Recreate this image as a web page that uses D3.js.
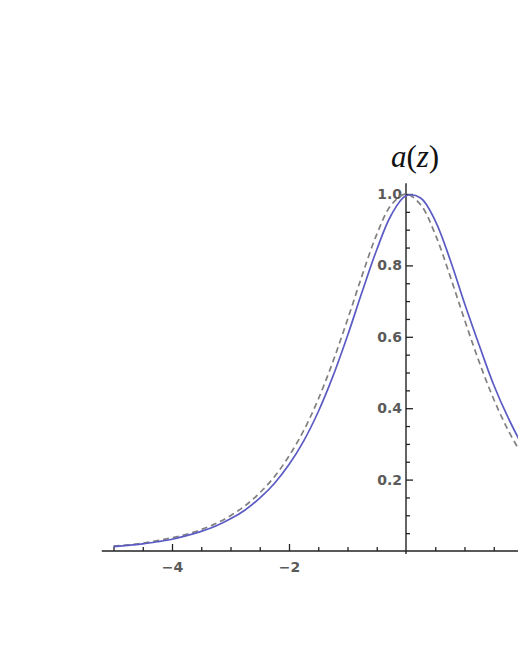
<!DOCTYPE html>
<html>
<head>
<meta charset="utf-8">
<script src="https://cdn.jsdelivr.net/npm/d3@7"></script>
<style>
  body { margin: 0; background: #fff; }
  svg { display: block; }
</style>
</head>
<body>
<div id="chart"></div>
<script>
// z positions for both curves
var zValues = [-5, -4.75, -4.5, -4.25, -4, -3.75, -3.5, -3.25, -3, -2.75, -2.5, -2.25, -2, -1.75, -1.5,
    -1.25, -1, -0.75, -0.5, -0.25, 0, 0.25, 0.5, 0.75, 1, 1.25, 1.5, 1.75, 2, 2.25, 2.5];

// solid blue curve (peak slightly right of 0)
var solidValues = [0.012, 0.016, 0.020, 0.026, 0.033, 0.043, 0.055, 0.070, 0.090, 0.115, 0.148, 0.189,
    0.242, 0.308, 0.390, 0.489, 0.603, 0.726, 0.844, 0.942, 0.995, 0.989, 0.925, 0.818, 0.694, 0.577,
    0.465, 0.372, 0.293, 0.231, 0.181];

// dashed grey curve (peak at 0)
var dashedValues = [0.014, 0.017, 0.022, 0.029, 0.037, 0.047, 0.060, 0.077, 0.099, 0.127, 0.163, 0.208,
    0.266, 0.337, 0.425, 0.530, 0.648, 0.772, 0.887, 0.970, 1.0, 0.970, 0.887, 0.772, 0.648, 0.530,
    0.425, 0.337, 0.266, 0.208, 0.163];

var xMajorTicks = [-4, -2, 2];
var yMajorTicks = [0.2, 0.4, 0.6, 0.8, 1.0];

function init() {
    var w = 518;
    var h = 670;

    var x = d3.scaleLinear().domain([0, 1]).range([406, 464.5]); // 58.5 px per unit
    var y = d3.scaleLinear().domain([0, 1]).range([551, 194]);

    var svg = d3.select("#chart").append("svg")
        .attr("width", w)
        .attr("height", h);

    // minor ticks every 0.5 on x, every 0.05 on y
    var xMinor = d3.range(-5, 3.01, 0.5).filter(function(d) { return xMajorTicks.indexOf(d) < 0 && d != 0; });
    var yMinor = d3.range(0.05, 1.01, 0.05).filter(function(d) {
        return yMajorTicks.every(function(m) { return Math.abs(m - d) > 1e-6; });
    });

    // x axis
    var xAxisG = svg.append("g").attr("transform", "translate(0," + y(0) + ")");
    xAxisG.call(d3.axisBottom(x).tickValues(xMajorTicks).tickSizeInner(-7).tickSizeOuter(0).tickPadding(11)
        .tickFormat(function(d) { return d3.format("")(d).replace("-", "\u2212"); }));
    xAxisG.call(function(g) { g.select(".domain").remove(); });
    svg.append("g").attr("transform", "translate(0," + y(0) + ")")
        .call(d3.axisBottom(x).tickValues(xMinor).tickSizeInner(-4).tickSizeOuter(0).tickFormat(""))
        .call(function(g) { g.select(".domain").remove(); });
    svg.append("line")
        .attr("x1", x(-5.2)).attr("x2", x(3))
        .attr("y1", y(0)).attr("y2", y(0))
        .attr("stroke", "#222").attr("stroke-width", 1.4);

    // y axis
    var yAxisG = svg.append("g").attr("transform", "translate(" + x(0) + ",0)");
    yAxisG.call(d3.axisLeft(y).tickValues(yMajorTicks).tickSizeInner(-7).tickSizeOuter(0).tickPadding(4)
        .tickFormat(d3.format(".1f")));
    yAxisG.call(function(g) { g.select(".domain").remove(); });
    svg.append("g").attr("transform", "translate(" + x(0) + ",0)")
        .call(d3.axisLeft(y).tickValues(yMinor).tickSizeInner(-4).tickSizeOuter(0).tickFormat(""))
        .call(function(g) { g.select(".domain").remove(); });
    svg.append("line")
        .attr("x1", x(0)).attr("x2", x(0))
        .attr("y1", y(0) + 3).attr("y2", y(1.03))
        .attr("stroke", "#222").attr("stroke-width", 1.4);

    svg.selectAll(".tick line").attr("stroke", "#222").attr("stroke-width", 1.3);
    svg.selectAll(".tick text")
        .attr("font-family", "'DejaVu Sans', sans-serif")
        .attr("font-size", 14)
        .attr("font-weight", "bold")
        .attr("fill", "#5a5a5a");

    var line = d3.line()
        .x(function(d) { return x(d[0]); })
        .y(function(d) { return y(d[1]); })
        .curve(d3.curveCatmullRom);

    svg.append("path")
        .attr("d", line(d3.zip(zValues, dashedValues)))
        .attr("fill", "none")
        .attr("stroke", "#808080")
        .attr("stroke-width", 1.7)
        .attr("stroke-dasharray", "6,4");

    svg.append("path")
        .attr("d", line(d3.zip(zValues, solidValues)))
        .attr("fill", "none")
        .attr("stroke", "#5b5bc4")
        .attr("stroke-width", 1.7);

    // title a(z)
    var title = svg.append("text")
        .attr("x", 415)
        .attr("y", 167)
        .attr("text-anchor", "middle")
        .style("font-family", "'Liberation Serif', 'DejaVu Serif', serif")
        .style("font-size", "31px")
        .attr("fill", "#111");
    title.append("tspan").style("font-style", "italic").text("a");
    title.append("tspan").text("(");
    title.append("tspan").style("font-style", "italic").text("z");
    title.append("tspan").text(")");
}

window.onload = init();
</script>
</body>
</html>
